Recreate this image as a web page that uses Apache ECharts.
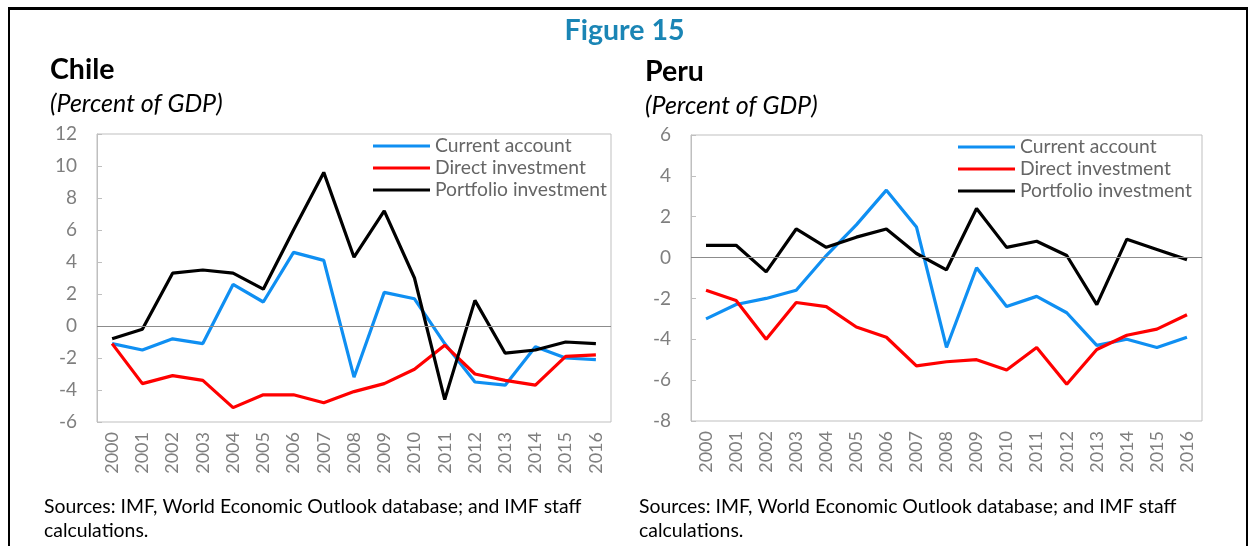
<!DOCTYPE html>
<html>
<head>
	<meta charset="utf-8">
	<title>Figure 15</title>
	<script src="https://cdn.jsdelivr.net/npm/echarts@6/dist/echarts.min.js"></script>
	<style type="text/css">
		body{ margin: 0; padding: 0; background: #fff; }
		#chart{ position: absolute; left: 0; top: 0; width: 1249px; height: 546px; }
		#frame{
			position: absolute; left: 8px; top: 7px; width: 1236px; height: 560px;
			border-top: 3px solid #000; border-left: 2px solid #000; border-right: 2px solid #000;
			pointer-events: none;
		}
	</style>
</head>
<body>
	<div id="chart"></div>
	<div id="frame"></div>
<script type="text/javascript">
	var years = ['2000','2001','2002','2003','2004','2005','2006','2007','2008','2009','2010','2011','2012','2013','2014','2015','2016'];
	var seriesNames = ['Current account', 'Direct investment', 'Portfolio investment'];

	// Chile
	var chileCurrent   = [-1.1, -1.5, -0.8, -1.1, 2.6, 1.5, 4.6, 4.1, -3.2, 2.1, 1.7, -1.1, -3.5, -3.7, -1.3, -2.0, -2.1];
	var chileDirect    = [-1.1, -3.6, -3.1, -3.4, -5.1, -4.3, -4.3, -4.8, -4.1, -3.6, -2.7, -1.2, -3.0, -3.4, -3.7, -1.9, -1.8];
	var chilePortfolio = [-0.8, -0.2, 3.3, 3.5, 3.3, 2.3, 6.0, 9.6, 4.3, 7.2, 3.0, -4.6, 1.6, -1.7, -1.5, -1.0, -1.1];
	var chileTicks = { min: -6, max: 12, interval: 2 };

	// Peru
	var peruCurrent   = [-3.0, -2.3, -2.0, -1.6, 0.1, 1.6, 3.3, 1.5, -4.4, -0.5, -2.4, -1.9, -2.7, -4.3, -4.0, -4.4, -3.9];
	var peruDirect    = [-1.6, -2.1, -4.0, -2.2, -2.4, -3.4, -3.9, -5.3, -5.1, -5.0, -5.5, -4.4, -6.2, -4.5, -3.8, -3.5, -2.8];
	var peruPortfolio = [0.6, 0.6, -0.7, 1.4, 0.5, 1.0, 1.4, 0.2, -0.6, 2.4, 0.5, 0.8, 0.1, -2.3, 0.9, 0.4, -0.1];
	var peruTicks = { min: -8, max: 6, interval: 2 };

	var colors = ['#0f8ff2', '#ff0000', '#000000'];
	var font = 'Lato, "Open Sans", sans-serif';
	var axisGray = '#7f7f7f';
	var legendGray = '#666666';
	var sourceText = 'Sources: IMF, World Economic Outlook database; and IMF staff\ncalculations.';

	function yAxisOf(idx, t) {
		return {
			type: 'value', gridIndex: idx, min: t.min, max: t.max, interval: t.interval,
			axisLine: { show: true, lineStyle: { color: '#bfbfbf' } },
			axisTick: { show: true, inside: true, length: 5, lineStyle: { color: '#bfbfbf' } },
			splitLine: { show: false },
			axisLabel: { color: axisGray, fontSize: 19, fontFamily: font, margin: 20 }
		};
	}
	function xAxisOf(idx) {
		return {
			type: 'category', gridIndex: idx, data: years, boundaryGap: true,
			axisLine: { show: false, onZero: false },
			axisTick: { show: false },
			axisLabel: { color: axisGray, fontSize: 18, fontFamily: font, rotate: 90, margin: 10, interval: 0 }
		};
	}
	function lineSeries(name, data, idx, color, zeroLine) {
		var s = {
			name: name, type: 'line', data: data, xAxisIndex: idx, yAxisIndex: idx,
			symbol: 'none', smooth: false,
			lineStyle: { color: color, width: 3.2 }, itemStyle: { color: color },
			z: 3
		};
		if (zeroLine) {
			s.markLine = {
				silent: true, symbol: 'none', label: { show: false },
				lineStyle: { color: '#8c8c8c', type: 'solid', width: 1 },
				data: [{ yAxis: 0 }]
			};
		}
		return s;
	}
	function legendOf(left, top) {
		return {
			orient: 'vertical', left: left, top: top, data: seriesNames,
			icon: 'rect', itemWidth: 57, itemHeight: 3, itemGap: 0,
			textStyle: { color: legendGray, fontSize: 19.3, fontFamily: font, lineHeight: 22 }
		};
	}
	function textTitle(text, left, top, size, extra) {
		var ts = { color: '#000', fontSize: size, fontWeight: 'normal', fontFamily: font };
		for (var k in extra) ts[k] = extra[k];
		return { text: text, left: left, top: top, textStyle: ts };
	}

	var myChart = echarts.init(document.getElementById('chart'));
	var option = {
		animation: false,
		title: [
			textTitle('Figure 15', 'center', 11, 28.5, { color: '#1a85b5', fontWeight: 'bold' }),
			textTitle('Chile', 45, 50, 28.5, { fontWeight: 'bold' }),
			textTitle('(Percent of GDP)', 45, 86, 25, { fontStyle: 'italic' }),
			textTitle('Peru', 640, 52, 28.5, { fontWeight: 'bold' }),
			textTitle('(Percent of GDP)', 640, 88, 25, { fontStyle: 'italic' }),
			textTitle(sourceText, 39, 490, 19.4, { lineHeight: 24 }),
			textTitle(sourceText, 634, 490, 19.4, { lineHeight: 24 })
		],
		legend: [legendOf(368, 130), legendOf(953, 131)],
		grid: [
			{ left: 97, top: 134, width: 514, height: 288, show: true, borderColor: '#bfbfbf', borderWidth: 1 },
			{ left: 691, top: 135, width: 511, height: 286, show: true, borderColor: '#bfbfbf', borderWidth: 1 }
		],
		xAxis: [xAxisOf(0), xAxisOf(1)],
		yAxis: [yAxisOf(0, chileTicks), yAxisOf(1, peruTicks)],
		series: [
			lineSeries(seriesNames[0], chileCurrent, 0, colors[0], true),
			lineSeries(seriesNames[1], chileDirect, 0, colors[1], false),
			lineSeries(seriesNames[2], chilePortfolio, 0, colors[2], false),
			lineSeries(seriesNames[0], peruCurrent, 1, colors[0], true),
			lineSeries(seriesNames[1], peruDirect, 1, colors[1], false),
			lineSeries(seriesNames[2], peruPortfolio, 1, colors[2], false)
		]
	};
	myChart.setOption(option);
</script>
</body>
</html>
